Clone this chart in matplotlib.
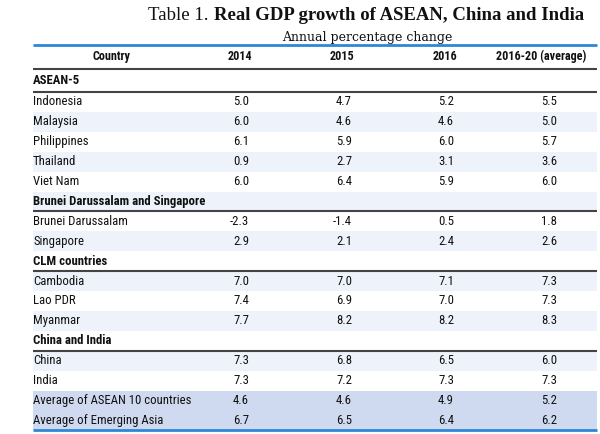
import matplotlib
matplotlib.use('Agg')
import matplotlib.pyplot as plt
from matplotlib.patches import Rectangle

#table content
columns = ['Country', '2014', '2015', '2016', '2016-20 (average)']

#rows: section headers have no values
row_labels = ['ASEAN-5', 'Indonesia', 'Malaysia', 'Philippines', 'Thailand', 'Viet Nam',
              'Brunei Darussalam and Singapore', 'Brunei Darussalam', 'Singapore',
              'CLM countries', 'Cambodia', 'Lao PDR', 'Myanmar',
              'China and India', 'China', 'India',
              'Average of ASEAN 10 countries', 'Average of Emerging Asia']
sections = ['ASEAN-5', 'Brunei Darussalam and Singapore', 'CLM countries', 'China and India']
averages = ['Average of ASEAN 10 countries', 'Average of Emerging Asia']

gdp_2014 = [None, 5.0, 6.0, 6.1, 0.9, 6.0, None, -2.3, 2.9, None, 7.0, 7.4, 7.7, None, 7.3, 7.3, 4.6, 6.7]
gdp_2015 = [None, 4.7, 4.6, 5.9, 2.7, 6.4, None, -1.4, 2.1, None, 7.0, 6.9, 8.2, None, 6.8, 7.2, 4.6, 6.5]
gdp_2016 = [None, 5.2, 4.6, 6.0, 3.1, 5.9, None, 0.5, 2.4, None, 7.1, 7.0, 8.2, None, 6.5, 7.3, 4.9, 6.4]
gdp_avg = [None, 5.5, 5.0, 5.7, 3.6, 6.0, None, 1.8, 2.6, None, 7.3, 7.3, 8.3, None, 6.0, 7.3, 5.2, 6.2]

title_a = 'Table 1.'
title_b = 'Real GDP growth of ASEAN, China and India'
subtitle = 'Annual percentage change'

#styles
blue = '#2f86d6'
dark = '#444444'
stripe = '#eef3fb'
avgfill = '#cfdaf0'
txt = '#111111'
sans = ['Roboto Condensed', 'Roboto', 'DejaVu Sans']
serif = ['Liberation Serif', 'DejaVu Serif']
fs = 9.2
fs_head = 8.7

W, H = 600, 434
fig = plt.figure(figsize=(W / 100, H / 100), dpi=100)
ax = fig.add_axes([0, 0, 1, 1])
ax.set_xlim(0, W)
ax.set_ylim(H, 0)
ax.axis('off')

x0, x1 = 33, 597
head_top, head_bot = 44.5, 68.5
first_top = 92.0
rh = 19.9

#column positions: header centres and value right edges
hdr_x = [111, 240, 342, 445, 541]
val_right = [249, 352, 454, 557]

#header
for i, c in enumerate(columns):
    ax.text(hdr_x[i], (head_top + head_bot) / 2, c, ha='center', va='center',
            fontsize=fs_head, fontweight='bold', family=sans, color=txt)

#first section row (taller)
ax.text(x0, (head_bot + first_top) / 2, row_labels[0], ha='left', va='center',
        fontsize=fs, fontweight='bold', family=sans, color=txt)
ax.plot([x0, x1], [head_bot, head_bot], color=dark, lw=1.5, solid_capstyle='butt')
ax.plot([x0, x1], [first_top, first_top], color=dark, lw=1.5, solid_capstyle='butt')

cols = [gdp_2014, gdp_2015, gdp_2016, gdp_avg]
for k in range(1, len(row_labels)):
    label = row_labels[k]
    top = first_top + (k - 1) * rh
    yc = top + rh / 2
    if label in averages:
        ax.add_patch(Rectangle((x0, top), x1 - x0, rh, color=avgfill, lw=0, zorder=0))
    elif (k - 1) % 2 == 1:
        ax.add_patch(Rectangle((x0, top), x1 - x0, rh, color=stripe, lw=0, zorder=0))
    if label in sections:
        ax.text(x0, yc, label, ha='left', va='center', fontsize=fs,
                fontweight='bold', family=sans, color=txt)
        ax.plot([x0, x1], [top + rh, top + rh], color=dark, lw=1.5, solid_capstyle='butt')
    else:
        ax.text(x0, yc, label, ha='left', va='center', fontsize=fs, family=sans, color=txt)
        for j, col in enumerate(cols):
            ax.text(val_right[j], yc, '%.1f' % col[k], ha='right', va='center',
                    fontsize=fs, family=sans, color=txt)

bottom = first_top + (len(row_labels) - 1) * rh
ax.plot([x0, x1], [head_top, head_top], color=blue, lw=2, solid_capstyle='butt')
ax.plot([x0, x1], [bottom, bottom], color=blue, lw=2, solid_capstyle='butt')

#title, two weights
fig.canvas.draw()
r = fig.canvas.get_renderer()
tb = ax.text(584, 16, title_b, ha='right', va='center', fontsize=13.5,
             fontweight='bold', family=serif, color=txt)
bb = tb.get_window_extent(r)
xb = ax.transData.inverted().transform((bb.x0, 0))[0]
ax.text(xb - 5, 16, title_a, ha='right', va='center', fontsize=13.5,
        family=serif, color=txt)
ax.text(367, 38, subtitle, ha='center', va='center', fontsize=9,
        family=['DejaVu Serif'], color=txt)

fig.savefig('out.png', dpi=100)
